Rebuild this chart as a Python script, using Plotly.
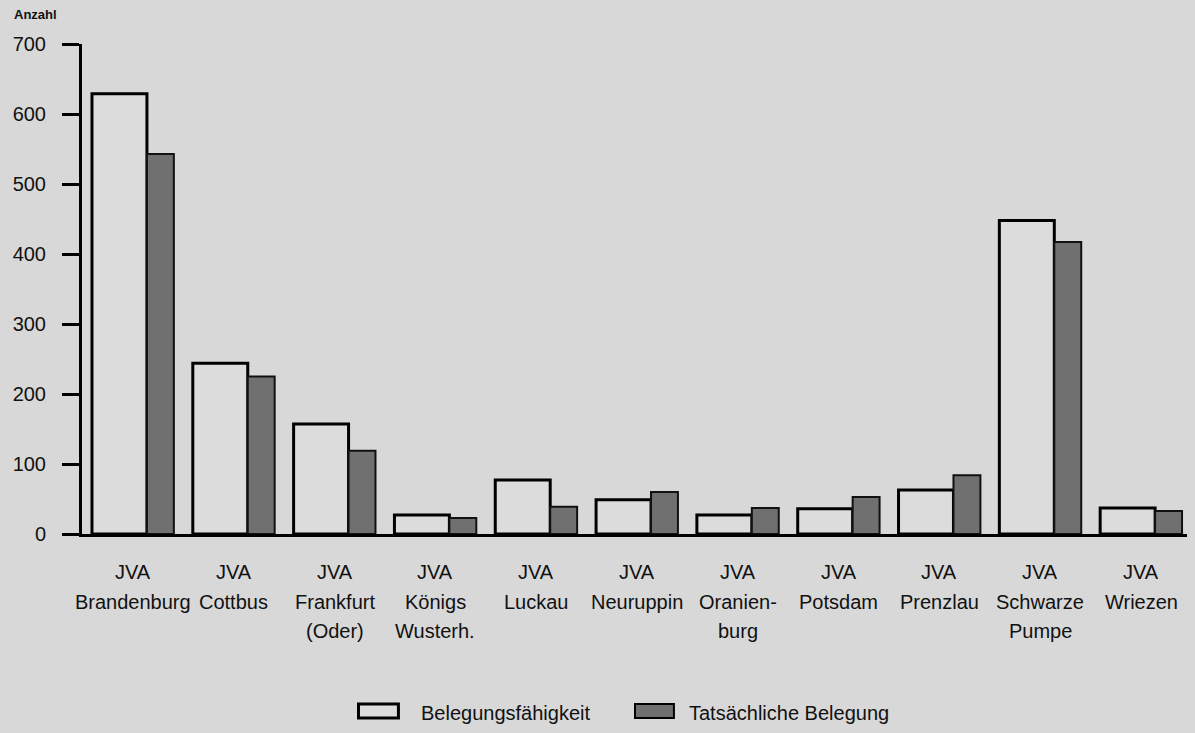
import plotly.graph_objects as go

# ---- data ----
categories = ["Brandenburg", "Cottbus", "Frankfurt", "Königs", "Luckau", "Neuruppin",
              "Oranienburg", "Potsdam", "Prenzlau", "Schwarze", "Wriezen"]
tick_labels = ["JVA\nBrandenburg", "JVA\nCottbus", "JVA\nFrankfurt\n(Oder)", "JVA\nKönigs\nWusterh.",
               "JVA\nLuckau", "JVA\nNeuruppin", "JVA\nOranien-\nburg", "JVA\nPotsdam",
               "JVA\nPrenzlau", "JVA\nSchwarze\nPumpe", "JVA\nWriezen"]
belegungsfaehigkeit = [629, 244, 157, 27, 77, 49, 27, 36, 63, 448, 37]
tatsaechliche_belegung = [543, 225, 119, 23, 39, 60, 37, 53, 84, 417, 33]
y_ticks = [0, 100, 200, 300, 400, 500, 600, 700]
series_names = ["Belegungsfähigkeit", "Tatsächliche Belegung"]

# ---- style ----
OFF = 8                      # page body margin of the browser
W, H = 1195 - OFF, 733 - OFF
ML, MR, MT, MB = 80 - OFF, 5, 44 - OFF, 199
BG = "#d8d8d8"
LIGHT = "#dcdcdc"
DARK = "#707070"
FONT = "Liberation Sans, Arial, sans-serif"
TXT = "#111111"

def px_x(px):
    # screen pixel -> paper x
    return (px - OFF - ML) / (W - ML - MR)

def px_y(py):
    # screen pixel -> paper y
    return (H - MB - (py - OFF)) / (H - MT - MB)

fig = go.Figure()
fig.add_trace(go.Bar(
    x=categories, y=belegungsfaehigkeit, name=series_names[0],
    width=0.545, offset=-0.406,
    marker=dict(color=LIGHT, line=dict(color="black", width=3)),
    showlegend=False,
))
fig.add_trace(go.Bar(
    x=categories, y=tatsaechliche_belegung, name=series_names[1],
    width=0.267, offset=0.139,
    marker=dict(color=DARK, line=dict(color="#111111", width=2)),
    showlegend=False,
))

# category labels (multi-line, spacing as in original)
for cat, lab in zip(categories, tick_labels):
    for i, line in enumerate(lab.split("\n")):
        fig.add_annotation(x=cat, xref="x", y=0, yref="paper",
                           yshift=-(38 + 29.5 * i), yanchor="middle",
                           text=line, showarrow=False,
                           font=dict(family=FONT, size=20, color=TXT))

# axis title "Anzahl"
fig.add_annotation(x=px_x(10), xref="paper", y=px_y(15), yref="paper",
                   xanchor="left", yanchor="middle", text="<b>Anzahl</b>", showarrow=False,
                   font=dict(family=FONT, size=13, color=TXT))

# custom legend
legend_items = [
    (357, 397, 418, series_names[0], LIGHT, 3),
    (634, 673, 686, series_names[1], DARK, 2),
]
for x0, x1, xt, name, col, lw in legend_items:
    fig.add_shape(type="rect", xref="paper", yref="paper",
                  x0=px_x(x0), x1=px_x(x1), y0=px_y(704), y1=px_y(718),
                  fillcolor=col, line=dict(color="black", width=lw))
    fig.add_annotation(x=px_x(xt), xref="paper", y=px_y(713), yref="paper",
                       xanchor="left", yanchor="middle", text=name, showarrow=False,
                       font=dict(family=FONT, size=20, color=TXT))

fig.update_layout(
    width=W, height=H,
    margin=dict(l=ML, r=MR, t=MT, b=MB, pad=0),
    paper_bgcolor=BG, plot_bgcolor=BG,
    barmode="overlay",
    font=dict(family=FONT, size=20, color=TXT),
    xaxis=dict(type="category", range=[-0.505, 10.485], showticklabels=False,
               ticks="", showline=True, linecolor="black", linewidth=3,
               showgrid=False, zeroline=False, fixedrange=True),
    yaxis=dict(range=[0, 700], tickvals=y_ticks, ticks="outside", ticklen=17,
               tickwidth=3, tickcolor="black", showline=True, linecolor="black",
               linewidth=3, showgrid=False, zeroline=False,
               tickfont=dict(family=FONT, size=20, color=TXT),
               ticklabelstandoff=12, fixedrange=True),
)

fig.write_html("out.html",
               post_script="document.body.style.background='%s';" % BG)
